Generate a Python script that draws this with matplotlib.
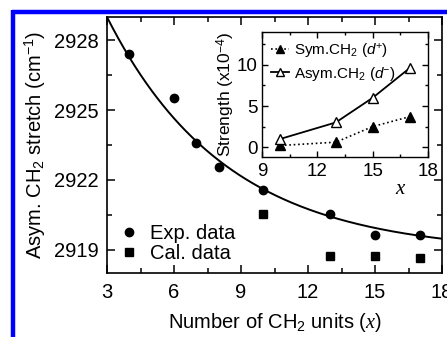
import numpy as np
import matplotlib
matplotlib.use("Agg")
import matplotlib.pyplot as plt
from matplotlib.lines import Line2D
from matplotlib.ticker import MultipleLocator

plt.rcParams['font.family'] = ['Liberation Sans', 'DejaVu Sans']
plt.rcParams['mathtext.fontset'] = 'custom'
plt.rcParams['mathtext.rm'] = 'Liberation Sans'
plt.rcParams['mathtext.it'] = 'Liberation Serif:italic'
plt.rcParams['mathtext.sf'] = 'Liberation Sans:italic'

# Main data
exp_x = [4, 6, 7, 8, 10, 13, 15, 17]
exp_y = [2927.4, 2925.5, 2923.6, 2922.56, 2921.57, 2920.54, 2919.64, 2919.62]
cal_x = [10, 13, 15, 17]
cal_y = [2920.54, 2918.74, 2918.74, 2918.66]

# Exponential fit curve parameters (y = y0 + A*exp(-x/t))
fit_y0 = 2918.86
fit_A = 17.76
fit_t = 5.35

# Inset data
ins_x = [10, 13, 15, 17]
sym_y = [0.2, 0.6, 2.5, 3.7]
asym_y = [1.0, 3.0, 6.0, 9.6]

W, H = 447, 337
fig = plt.figure(figsize=(W / 100, H / 100), dpi=100)

# blue frame
fig.add_artist(Line2D([12 / W, 1.0], [1 - 11.5 / H, 1 - 11.5 / H], color='#0000ff', lw=3.2,
                      transform=fig.transFigure, solid_capstyle='butt'))
fig.add_artist(Line2D([13 / W, 13 / W], [0, 1 - 9.8 / H], color='#0000ff', lw=3.2,
                      transform=fig.transFigure, solid_capstyle='butt'))

FS = 14.5
ax = fig.add_axes([107 / W, 1 - 273 / H, 335 / W, 256 / H])
ax.set_xlim(3, 18)
ax.set_ylim(2918, 2929)

xs = np.linspace(3, 18, 300)
ax.plot(xs, fit_y0 + fit_A * np.exp(-xs / fit_t), color='black', lw=1.4)
ax.plot(exp_x, exp_y, 'o', color='black', ms=6, label='Exp. data', clip_on=False)
ax.plot(cal_x, cal_y, 's', color='black', ms=5.2, label='Cal. data', clip_on=False)

ax.xaxis.set_major_locator(MultipleLocator(3))
ax.xaxis.set_minor_locator(MultipleLocator(1.5))
ax.yaxis.set_major_locator(MultipleLocator(3))
ax.yaxis.set_minor_locator(MultipleLocator(1.5))
ax.set_yticks([2919, 2922, 2925, 2928])
ax.tick_params(which='both', direction='in', top=True, right=True, width=1.1, labelsize=FS)
ax.tick_params(which='major', length=6)
ax.tick_params(which='minor', length=3.5)
ax.tick_params(axis='x', pad=7)
ax.tick_params(axis='y', pad=6)
for s in ax.spines.values():
    s.set_linewidth(1.2)

ax.set_xlabel('Number of CH$_2$ units ($x$)', fontsize=FS, labelpad=7)
ax.set_ylabel('Asym. CH$_2$ stretch (cm$^{-1}$)', fontsize=FS, labelpad=4)

leg = ax.legend(loc='lower left', bbox_to_anchor=(0.0, 0.0), frameon=False, fontsize=FS,
                handletextpad=0.45, handlelength=1.2, labelspacing=0.05, borderaxespad=0.1)

# inset
ins = fig.add_axes([262 / W, 1 - 157 / H, 166 / W, 125 / H])
ins.set_xlim(9, 18)
ins.set_ylim(-1.2, 14)
ins.plot(ins_x, sym_y, ':', color='black', lw=1.2, marker='^', ms=7, mfc='black', mec='black',
         label='Sym.CH$_2$ ($\\mathsf{d}^{+}$)')
ins.plot(ins_x, asym_y, '-', color='black', lw=1.3, marker='^', ms=7, mfc='white', mec='black',
         label='Asym.CH$_2$ ($\\mathsf{d}^{-}$)')
ins.xaxis.set_major_locator(MultipleLocator(3))
ins.xaxis.set_minor_locator(MultipleLocator(1.5))
ins.yaxis.set_major_locator(MultipleLocator(5))
ins.yaxis.set_minor_locator(MultipleLocator(2.5))
ins.tick_params(which='both', direction='in', top=True, right=True, width=1.0, labelsize=13.5)
ins.tick_params(which='major', length=4.5)
ins.tick_params(which='minor', length=2.5)
ins.tick_params(axis='x', pad=4)
ins.tick_params(axis='y', pad=3)
for s in ins.spines.values():
    s.set_linewidth(1.0)
ins.set_ylabel('Strength (x10$^{-4}$)', fontsize=12.5, labelpad=0)
ins.legend(loc='upper left', frameon=False, fontsize=11, handlelength=1.2,
           handletextpad=0.3, labelspacing=0.35, borderaxespad=0.2, markerscale=0.9)
fig.text(400 / W, 1 - 190 / H, 'x', family='Liberation Serif', style='italic', fontsize=15,
         ha='center', va='center')

fig.savefig('out.png', dpi=100)
